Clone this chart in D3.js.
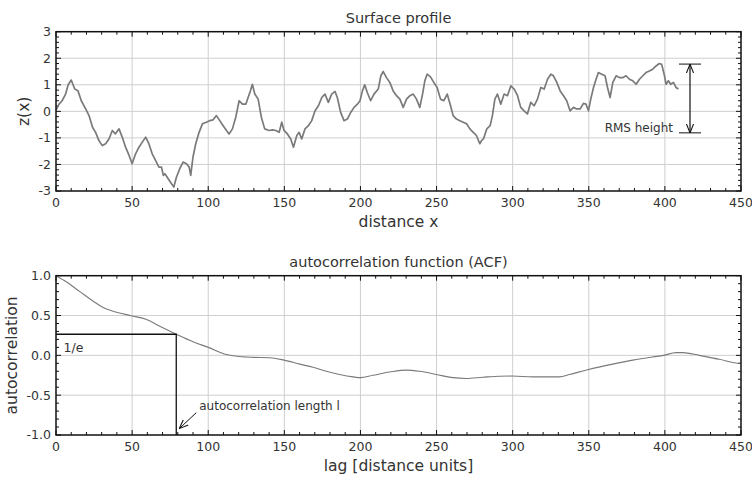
<!DOCTYPE html>
<html>
<head>
<meta charset="utf-8">
<script src="https://cdn.jsdelivr.net/npm/d3@7"></script>
<style>
  body { margin: 0; background: #fff; }
  svg { display: block; font-family: "DejaVu Sans", sans-serif; }
  .grid line { stroke: #cfcfcf; stroke-width: 1; }
  .frame { fill: none; stroke: #111; stroke-width: 1.5; }
  .tick-label { font-size: 12.5px; fill: #333; }
</style>
</head>
<body>
<svg id="chart" width="752" height="479"></svg>
<script>
// surface profile, [distance x, z(x)]
const profile = [
  [0, 0.05], [0.4, 0.09], [2, 0.27], [4, 0.4], [6.3, 0.65], [8, 1.0], [10, 1.18],
  [12.3, 0.84], [14.4, 0.78], [16.6, 0.4], [19.5, 0.09], [21.7, -0.16], [24, -0.6],
  [26, -0.79], [28.2, -1.1], [30.4, -1.29], [32.6, -1.22], [34.8, -1.04], [37, -0.72],
  [39, -0.85], [41.4, -0.66], [43.5, -0.97], [45.7, -1.35], [48, -1.66], [50, -1.97],
  [52.3, -1.6], [54.5, -1.35], [56.7, -1.16], [58.9, -0.97], [61, -1.22], [63.2, -1.6],
  [65.4, -1.85], [67.6, -2.1], [69.3, -2.1], [70.5, -2.41], [71.5, -2.35], [73.7, -2.54],
  [75.9, -2.73], [77.4, -2.85], [79.1, -2.48], [81.3, -2.16], [83.5, -1.91], [85.7, -1.97],
  [87.5, -2.1], [88.5, -2.41], [90, -1.72], [91.8, -1.22], [94, -0.79], [96.2, -0.47],
  [98.8, -0.41], [101, -0.35], [103.2, -0.32], [105.4, -0.16], [107.6, -0.35], [109.8, -0.54],
  [112, -0.72], [113.7, -0.85], [115.9, -0.66], [118.1, -0.22], [120.3, 0.4], [122.5, 0.27],
  [124.7, 0.27], [126.2, 0.52], [127.7, 0.77], [129, 1.02], [130.6, 0.65], [132.8, 0.46],
  [134.9, -0.22], [137.1, -0.66], [140, -0.72], [142.2, -0.7], [144.4, -0.72], [146.6, -0.79],
  [148.3, -0.41], [149.8, -0.72], [152, -0.85], [154.2, -1.04], [156, -1.35], [158.2, -0.91],
  [159.7, -0.79], [161.4, -1.04], [163.6, -0.66], [165.8, -0.54], [168, -0.35], [170.2, 0.02],
  [172.4, 0.21], [174.6, 0.52], [176.7, 0.65], [178.9, 0.34], [181.1, 0.65], [183.3, 0.75],
  [184.8, 0.52], [187, -0.04], [189.2, -0.35], [191.4, -0.29], [193.6, -0.04], [195.8, 0.15],
  [198, 0.27], [199.7, 0.4], [201.3, 0.77], [202.8, 1.0], [204.5, 0.71], [206.7, 0.4],
  [208.9, 0.65], [211.7, 0.84], [213.4, 1.34], [215, 1.5], [217.1, 1.27], [219.3, 1.09],
  [221.5, 0.77], [223.7, 0.59], [225.9, 0.46], [228.1, 0.15], [230.3, 0.46], [232.5, 0.59],
  [234.7, 0.65], [236.8, 0.46], [239, 0.15], [240.8, 0.65], [242.3, 1.15], [243.8, 1.4],
  [246, 1.3], [248.2, 1.09], [250.4, 0.9], [252.6, 0.46], [254.8, 0.4], [257, 0.65],
  [259.2, 0.21], [260.9, -0.16], [263.1, -0.29], [265.3, -0.35], [267.5, -0.41], [269.7, -0.47],
  [271.9, -0.66], [274.1, -0.79], [276.2, -0.91], [278.4, -1.22], [279.5, -1.1], [280.8, -1.04],
  [283, -0.66], [285.2, -0.54], [286.7, -0.16], [288.3, 0.46], [290, 0.65], [292.2, 0.27],
  [294.4, 0.65], [296.6, 0.59], [298.8, 0.96], [301, 0.84], [303.2, 0.59], [305.3, 0.15],
  [307.5, 0.02], [309.7, -0.1], [311.9, 0.34], [314.1, 0.21], [316.3, 0.46], [318.5, 0.9],
  [320.7, 0.84], [322.9, 1.21], [325.1, 1.4], [326.8, 1.34], [329, 1.09], [331.2, 0.77],
  [333.4, 0.59], [335.5, 0.4], [337.7, 0.02], [339.9, 0.15], [342.1, 0.09], [344.3, 0.09],
  [346.5, 0.3], [348.2, 0.27], [349.8, 0.02], [351.3, 0.46], [353.1, 0.9], [354.8, 1.21],
  [356.3, 1.46], [358.5, 1.4], [360.7, 1.34], [362.3, 0.9], [364, 0.52], [365.8, 1.09],
  [368, 1.34], [370.1, 1.27], [372.3, 1.27], [374.5, 1.34], [376.7, 1.21], [378.9, 1.15],
  [381.1, 1.02], [383.3, 1.21], [385.5, 1.34], [387.6, 1.46], [389.8, 1.52], [392, 1.59],
  [394.2, 1.71], [396.4, 1.8], [397.9, 1.77], [399.5, 1.4], [400.8, 1.02], [402.3, 1.15],
  [403.8, 1.02], [405.6, 1.09], [407.3, 0.9], [408.9, 0.84],
];

// autocorrelation function, [lag, acf]
const acf = [
  [0, 1.0], [7, 0.92], [15.7, 0.8], [24.5, 0.68], [31, 0.6], [39.8, 0.54], [50, 0.495],
  [59.5, 0.45], [68.2, 0.365], [79, 0.265], [90, 0.17], [100, 0.1], [112, 0.01],
  [120.7, -0.015], [129.5, -0.025], [140.4, -0.03], [149.8, -0.06], [160.1, -0.11],
  [168.8, -0.15], [177.6, -0.2], [186.3, -0.24], [195.1, -0.27], [200, -0.28],
  [208.2, -0.25], [219.2, -0.21], [230.1, -0.185], [238.9, -0.2], [249.8, -0.24],
  [260.7, -0.28], [269.5, -0.29], [280.4, -0.275], [291.4, -0.262], [299.6, -0.26],
  [313.2, -0.27], [330.7, -0.27], [337.3, -0.24], [349.3, -0.18], [365.7, -0.11],
  [378.9, -0.06], [392, -0.02], [399.2, 0.0], [407.3, 0.034], [411.7, 0.034],
  [422.6, 0.0], [435.8, -0.05], [449.3, -0.1], [450, -0.1],
];

const xTicks = [0, 50, 100, 150, 200, 250, 300, 350, 400, 450];
const zTicks = [-3, -2, -1, 0, 1, 2, 3];
const acfTicks = [-1.0, -0.5, 0.0, 0.5, 1.0];

const rmsTop = 1.78;
const rmsBottom = -0.81;
const rmsX = 416.5;
const invE = 0.265;
const corrLength = 79;

const svg = d3.select("#chart");
const left = 56, right = 741;
// plain hyphen for negatives, as in the original
const hyphen = (f) => (d) => f(d).replace("\u2212", "-");

function panel({ top, bottom, yDomain, yTicks, yMinor, fmt, title, xLabel, yLabel, yLabelX }) {
  const x = d3.scaleLinear().domain([0, 450]).range([left, right]);
  const y = d3.scaleLinear().domain(yDomain).range([bottom, top]);
  const g = svg.append("g");

  g.append("g").attr("class", "grid")
    .selectAll("line.v").data(xTicks.slice(1, -1)).join("line")
    .attr("x1", x).attr("x2", x).attr("y1", top).attr("y2", bottom);
  g.append("g").attr("class", "grid")
    .selectAll("line.h").data(yTicks.slice(1, -1)).join("line")
    .attr("x1", left).attr("x2", right).attr("y1", y).attr("y2", y);

  // inside ticks on all four sides
  const xMinor = d3.range(0, 451, 10);
  const yMin = d3.range(yDomain[0], yDomain[1] + 1e-9, yMinor);
  const tk = g.append("g").attr("stroke", "#111").attr("stroke-width", 1);
  xMinor.forEach((v) => {
    const len = v % 50 === 0 ? 5 : 3;
    tk.append("line").attr("x1", x(v)).attr("x2", x(v)).attr("y1", bottom).attr("y2", bottom - len);
    tk.append("line").attr("x1", x(v)).attr("x2", x(v)).attr("y1", top).attr("y2", top + len);
  });
  yMin.forEach((v) => {
    const major = yTicks.some((t) => Math.abs(t - v) < 1e-6);
    const len = major ? 5 : 3;
    tk.append("line").attr("y1", y(v)).attr("y2", y(v)).attr("x1", left).attr("x2", left + len);
    tk.append("line").attr("y1", y(v)).attr("y2", y(v)).attr("x1", right).attr("x2", right - len);
  });

  g.append("g").selectAll("text").data(xTicks).join("text")
    .attr("class", "tick-label")
    .attr("x", x).attr("y", bottom + 16)
    .attr("text-anchor", "middle")
    .text((d) => d);
  g.append("g").selectAll("text").data(yTicks).join("text")
    .attr("class", "tick-label")
    .attr("x", left - 5).attr("y", y).attr("dy", "0.35em")
    .attr("text-anchor", "end")
    .text(fmt);

  g.append("text").attr("x", (left + right) / 2).attr("y", top - 9)
    .attr("text-anchor", "middle").attr("font-size", 14.5).attr("fill", "#333").text(title);
  g.append("text").attr("x", (left + right) / 2).attr("y", bottom + 36)
    .attr("text-anchor", "middle").attr("font-size", 15.5).attr("fill", "#333").text(xLabel);
  g.append("text")
    .attr("transform", `translate(${yLabelX},${(top + bottom) / 2}) rotate(-90)`)
    .attr("text-anchor", "middle").attr("font-size", 15.5).attr("fill", "#333").text(yLabel);

  return { g, x, y, top, bottom };
}

const p1 = panel({
  top: 31.7, bottom: 191, yDomain: [-3, 3], yTicks: zTicks, yMinor: 0.2,
  fmt: hyphen(d3.format("d")), title: "Surface profile", xLabel: "distance x", yLabel: "z(x)", yLabelX: 29,
});

const p2 = panel({
  top: 275.7, bottom: 435, yDomain: [-1, 1], yTicks: acfTicks, yMinor: 0.1,
  fmt: hyphen(d3.format(".1f")), title: "autocorrelation function (ACF)",
  xLabel: "lag [distance units]", yLabel: "autocorrelation", yLabelX: 17,
});

svg.append("defs").append("marker")
  .attr("id", "arr").attr("viewBox", "0 0 10 10").attr("refX", 10).attr("refY", 5)
  .attr("markerWidth", 9).attr("markerHeight", 9).attr("orient", "auto-start-reverse")
  .attr("markerUnits", "userSpaceOnUse")
  .append("path").attr("d", "M0,1 L10,5 L0,9").attr("fill", "none").attr("stroke", "#111").attr("stroke-width", 1.2);

// profile line
p1.g.append("path").datum(profile)
  .attr("fill", "none").attr("stroke", "#7a7a7a").attr("stroke-width", 1.7)
  .attr("stroke-linejoin", "round")
  .attr("d", d3.line().x((d) => p1.x(d[0])).y((d) => p1.y(d[1])));

// RMS height annotation
[rmsTop, rmsBottom].forEach((v) => {
  p1.g.append("line").attr("x1", p1.x(rmsX) - 11).attr("x2", p1.x(rmsX) + 11)
    .attr("y1", p1.y(v)).attr("y2", p1.y(v)).attr("stroke", "#111").attr("stroke-width", 1);
});
p1.g.append("line").attr("x1", p1.x(rmsX)).attr("x2", p1.x(rmsX))
  .attr("y1", p1.y(rmsTop)).attr("y2", p1.y(rmsBottom))
  .attr("stroke", "#111").attr("stroke-width", 1.2)
  .attr("marker-start", "url(#arr)").attr("marker-end", "url(#arr)");
p1.g.append("text").attr("x", p1.x(rmsX) - 17).attr("y", p1.y(rmsBottom) - 1)
  .attr("text-anchor", "end").attr("font-size", 12).attr("fill", "#333").text("RMS height");

// ACF line
p2.g.append("path").datum(acf)
  .attr("fill", "none").attr("stroke", "#7a7a7a").attr("stroke-width", 1.1)
  .attr("d", d3.line().curve(d3.curveMonotoneX).x((d) => p2.x(d[0])).y((d) => p2.y(d[1])));

// 1/e and correlation length
p2.g.append("path")
  .attr("d", `M${p2.x(0)},${p2.y(invE)}H${p2.x(corrLength)}V${p2.y(-1)}`)
  .attr("fill", "none").attr("stroke", "#111").attr("stroke-width", 1.3);
p2.g.append("text").attr("x", p2.x(5)).attr("y", p2.y(invE) + 18)
  .attr("font-size", 12.5).attr("fill", "#333").text("1/e");
p2.g.append("line")
  .attr("x1", p2.x(corrLength) + 20).attr("y1", p2.y(-0.72))
  .attr("x2", p2.x(corrLength) + 3).attr("y2", p2.y(-0.92))
  .attr("stroke", "#111").attr("stroke-width", 1).attr("marker-end", "url(#arr)");
p2.g.append("text").attr("x", p2.x(corrLength) + 23).attr("y", p2.y(-0.68))
  .attr("font-size", 12).attr("fill", "#333").text("autocorrelation length l");

// frames on top
[p1, p2].forEach((p) => {
  p.g.append("rect").attr("class", "frame")
    .attr("x", left).attr("y", p.top).attr("width", right - left).attr("height", p.bottom - p.top);
});
</script>
</body>
</html>
